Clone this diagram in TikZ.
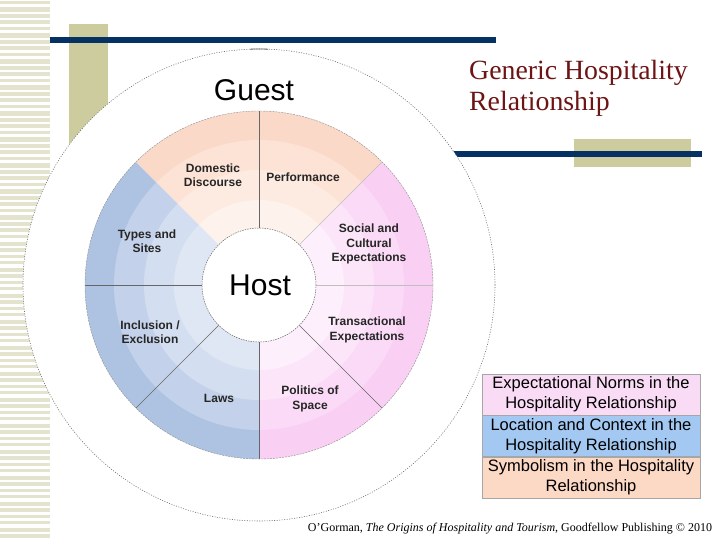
\documentclass[tikz,border=0pt]{standalone}
\usepackage{fontspec}
\setmainfont{Liberation Serif}
\setsansfont{Liberation Sans}
\definecolor{stripe}{HTML}{E4E4CE}
\definecolor{khaki}{HTML}{CCCC9E}
\definecolor{navy}{HTML}{053163}
\definecolor{titlered}{HTML}{6E1414}
\definecolor{blueA}{HTML}{AEC3E2}
\definecolor{blueB}{HTML}{C3D2EA}
\definecolor{blueC}{HTML}{D3DEF0}
\definecolor{blueD}{HTML}{DFE7F4}
\definecolor{pinkA}{HTML}{F9CFF3}
\definecolor{pinkB}{HTML}{FADAF6}
\definecolor{pinkC}{HTML}{FCE5F9}
\definecolor{pinkD}{HTML}{FDEFFB}
\definecolor{orA}{HTML}{FBD9C8}
\definecolor{orB}{HTML}{FCE3D6}
\definecolor{orC}{HTML}{FDEBE2}
\definecolor{orD}{HTML}{FEF2EC}
\definecolor{legpink}{HTML}{FADBF6}
\definecolor{legblue}{HTML}{A3C8F2}
\definecolor{legpeach}{HTML}{FCD9C5}
\begin{document}
\begin{tikzpicture}[x=1pt,y=-1pt,
  seglabel/.style={font=\sffamily\bfseries\fontsize{12}{14.5}\selectfont, text=black!85, align=center, inner sep=0pt},
  bigword/.style={font=\sffamily\fontsize{30}{34}\selectfont, inner sep=0pt},
  legbox/.style={draw=black!35, line width=0.6pt, minimum width=218pt, minimum height=41pt, inner sep=0pt, align=center, font=\sffamily\fontsize{16.5}{20}\selectfont},
  titletext/.style={font=\fontsize{27.8}{31}\selectfont, text=titlered, inner sep=0pt, anchor=base west},
  divider/.style={draw=black!60, line width=0.5pt},
  softdivider/.style={draw=black!25, line width=0.5pt}
]
\useasboundingbox (0,0) rectangle (720,540);
\fill[white] (0,0) rectangle (720,540);
% left striped band
\foreach \i in {0,...,82} {
  \pgfmathsetmacro\h{2.8+mod(\i*7,4)*0.6}
  \fill[stripe] (0,\i*6.5+1) rectangle (50,\i*6.5+1+\h);
}
% slide decorations
\fill[khaki] (69,24) rectangle (108,145);
\fill[navy] (50,37) rectangle (496,43);
\fill[khaki] (574,139) rectangle (691,167);
\fill[navy] (440,151) rectangle (702,157);
% wheel
\begin{scope}[shift={(259,285)}, yscale=-1]
  \fill[white] (0,0) circle (236);
  \foreach \r/\cb/\cp/\co in {174/blueA/pinkA/orA, 145/blueB/pinkB/orB, 115/blueC/pinkC/orC, 85/blueD/pinkD/orD} {
    \fill[\cb] (0,0) -- (135:\r) arc[start angle=135, end angle=270, radius=\r] -- cycle;
    \fill[\cp] (0,0) -- (-90:\r) arc[start angle=-90, end angle=45, radius=\r] -- cycle;
    \fill[\co] (0,0) -- (45:\r) arc[start angle=45, end angle=135, radius=\r] -- cycle;
  }
  \foreach \a in {90,180,225,270,315} \draw[divider] (\a:57) -- (\a:174);
  \foreach \a in {0,45} \draw[softdivider] (\a:57) -- (\a:174);
  \draw[black!45, line width=0.4pt, dash pattern=on 2pt off 1pt] (0,0) circle (174);
  \fill[white] (0,0) circle (57);
  \draw[black!60, line width=0.5pt, dash pattern=on 1.5pt off 1pt] (0,0) circle (57);
  \draw[black!60, line width=0.55pt, dash pattern=on 1pt off 1.5pt] (0,0) circle (236);
  \draw[black!60, line width=0.8pt] (87.8:236) arc[start angle=87.8, end angle=92.2, radius=236];
\end{scope}
% main words
\node[bigword] (guest) at (254,90) {Guest};
\node[bigword] (host) at (260,285) {Host};
% segment labels
\node[seglabel] (dom) at (213,175) {Domestic\\Discourse};
\node[seglabel] (perf) at (303,177) {Performance};
\node[seglabel] (soc) at (369,244) {Social and\\Cultural\\Expectations};
\node[seglabel] (types) at (147,241) {Types and\\Sites};
\node[seglabel] (incl) at (150,332) {Inclusion /\\Exclusion};
\node[seglabel] (trans) at (367,330) {Transactional\\Expectations};
\node[seglabel] (laws) at (219,398) {Laws};
\node[seglabel] (pol) at (310,399) {Politics of\\Space};
% title
\node[titletext] (title1) at (469,80) {Generic Hospitality};
\node[titletext] (title2) at (469,111) {Relationship};
% legend
\node[legbox, fill=legpink] (leg1) at (591,394.5) {Expectational Norms in the\\Hospitality Relationship};
\node[legbox, fill=legblue, anchor=north] (leg2) at (leg1.south) {Location and Context in the\\Hospitality Relationship};
\node[legbox, fill=legpeach, anchor=north] (leg3) at (leg2.south) {Symbolism in the Hospitality\\Relationship};
% footer
\node[font=\fontsize{12}{14}\selectfont, inner sep=0pt] (foot) at (510,529) {O'Gorman, \textit{The Origins of Hospitality and Tourism}, Goodfellow Publishing © 2010};
\end{tikzpicture}
\end{document}
